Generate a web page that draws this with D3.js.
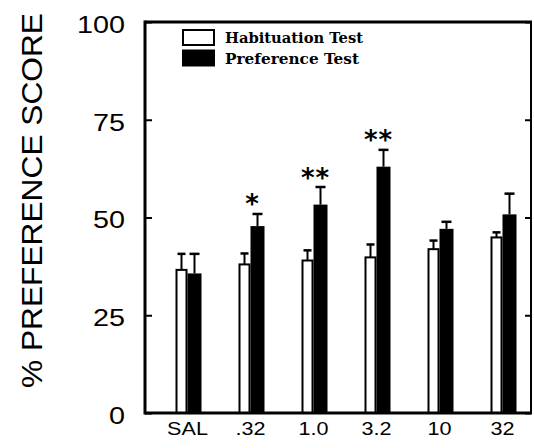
<!DOCTYPE html>
<html>
<head>
<meta charset="utf-8">
<script src="https://cdn.jsdelivr.net/npm/d3@7"></script>
<style>
  body { margin: 0; background: #fff; }
  svg { display: block; }
</style>
</head>
<body>
<svg id="chart" width="534" height="448"></svg>
<script>
// dose groups + values
const doses = ["SAL", ".32", "1.0", "3.2", "10", "32"];
const habituation = [36.6, 38.0, 39.0, 39.8, 41.9, 44.9];
const habituationErr = [4.1, 2.8, 2.6, 3.3, 2.2, 1.3];
const preference = [35.7, 47.8, 53.3, 63.0, 47.1, 50.8];
const preferenceErr = [5.0, 3.1, 4.5, 4.3, 1.8, 5.3];
const significance = ["", "*", "**", "**", "", ""];
const yTicks = [0, 25, 50, 75, 100];
const legendLabels = ["Habituation Test", "Preference Test"];

const svg = d3.select("#chart");

// "top" is a window global, so use plot* names
const plotL = 145, plotR = 531, plotT = 22, plotB = 413;

const y = d3.scaleLinear().domain([0, 100]).range([plotB, plotT]);
const x = d3.scaleBand().domain(doses).range([156, 534]).padding(0);
const cx = d => x(d) + x.bandwidth() / 2;

const rows = doses.map((d, i) => ({
  dose: d,
  hab: habituation[i], habErr: habituationErr[i],
  pref: preference[i], prefErr: preferenceErr[i],
  sig: significance[i]
}));

// bars
const g = svg.append("g");
const habW = 12, prefW = 14;

g.selectAll("rect.hab").data(rows).enter().append("rect")
  .attr("class", "hab")
  .attr("x", d => cx(d.dose) - habW + 1)
  .attr("y", d => y(d.hab))
  .attr("width", habW - 2)
  .attr("height", d => y(0) - y(d.hab))
  .attr("fill", "#fff").attr("stroke", "#000").attr("stroke-width", 2);

g.selectAll("rect.pref").data(rows).enter().append("rect")
  .attr("class", "pref")
  .attr("x", d => cx(d.dose))
  .attr("y", d => y(d.pref))
  .attr("width", prefW)
  .attr("height", d => y(0) - y(d.pref))
  .attr("fill", "#000");

// error bars (upper half only, T shape)
const errs = [];
rows.forEach(r => {
  errs.push({x: cx(r.dose) - habW / 2, v: r.hab, e: r.habErr, cap: 8});
  errs.push({x: cx(r.dose) + prefW / 2, v: r.pref, e: r.prefErr, cap: 10});
});
const eg = g.selectAll("g.err").data(errs).enter().append("g").attr("class", "err");
eg.append("line")
  .attr("x1", d => d.x).attr("x2", d => d.x)
  .attr("y1", d => y(d.v)).attr("y2", d => y(d.v + d.e))
  .attr("stroke", "#000").attr("stroke-width", 2);
eg.append("line")
  .attr("x1", d => d.x - d.cap / 2).attr("x2", d => d.x + d.cap / 2)
  .attr("y1", d => y(d.v + d.e)).attr("y2", d => y(d.v + d.e))
  .attr("stroke", "#000").attr("stroke-width", 2.5);

// significance stars
g.selectAll("text.sig").data(rows.filter(r => r.sig)).enter().append("text")
  .attr("class", "sig")
  .attr("x", d => cx(d.dose) + 2)
  .attr("y", d => y(d.pref + d.prefErr) - 20)
  .attr("dy", "0.75em")
  .attr("text-anchor", "middle")
  .style("font-family", "'DejaVu Sans', sans-serif")
  .style("font-weight", "bold")
  .style("font-size", "26px")
  .style("letter-spacing", "1px")
  .text(d => d.sig);

// axes
const yAxisL = d3.axisLeft(y).tickValues(yTicks).tickSizeInner(-7).tickSizeOuter(0).tickPadding(20);
const ax = svg.append("g").attr("transform", `translate(${plotL},0)`).call(yAxisL);
ax.select(".domain").remove();
ax.selectAll("line").attr("stroke-width", 2);
ax.selectAll("text")
  .attr("x", null).attr("dy", "0.45em")
  .attr("transform", "translate(-20,0) scale(1.25,1)")
  .style("font-family", "'Liberation Sans', Arial, sans-serif")
  .style("font-size", "23px")
  .attr("fill", "#000");

const yAxisR = d3.axisRight(y).tickValues(yTicks).tickSizeInner(-6).tickSizeOuter(0).tickFormat("");
const axr = svg.append("g").attr("transform", `translate(${plotR},0)`).call(yAxisR);
axr.select(".domain").remove();
axr.selectAll("line").attr("stroke-width", 2);

const xAxis = d3.axisBottom(x).tickSize(0).tickPadding(9);
const axb = svg.append("g").attr("transform", `translate(0,${plotB})`).call(xAxis);
axb.select(".domain").remove();
axb.selectAll("text")
  .attr("y", null)
  .attr("transform", "translate(0,9) scale(1.2,1)")
  .style("font-family", "'Liberation Sans', Arial, sans-serif")
  .style("font-size", "18px")
  .attr("fill", "#000");
axb.selectAll(".tick").attr("transform", d => `translate(${cx(d)},0)`);

// frame
const frame = svg.append("g").attr("fill", "none").attr("stroke", "#000");
frame.append("line").attr("x1", plotL).attr("x2", plotL).attr("y1", plotT - 1.5).attr("y2", plotB + 1.5).attr("stroke-width", 3);
frame.append("line").attr("x1", plotL).attr("x2", plotR + 1).attr("y1", plotT).attr("y2", plotT).attr("stroke-width", 3);
frame.append("line").attr("x1", plotL).attr("x2", plotR + 1).attr("y1", plotB).attr("y2", plotB).attr("stroke-width", 3);
frame.append("line").attr("x1", plotR).attr("x2", plotR).attr("y1", plotT).attr("y2", plotB).attr("stroke-width", 2);

// y title
svg.append("text")
  .attr("transform", `translate(42,${(13 + 388) / 2}) rotate(-90)`)
  .attr("text-anchor", "middle")
  .attr("textLength", 375)
  .attr("lengthAdjust", "spacingAndGlyphs")
  .style("font-family", "'Liberation Sans', Arial, sans-serif")
  .style("font-size", "30px")
  .text("% PREFERENCE SCORE");

// legend
const lg = svg.append("g").attr("transform", "translate(182,29)");
const li = lg.selectAll("g").data(legendLabels).enter().append("g")
  .attr("transform", (d, i) => `translate(0,${i * 20.5})`);
li.append("rect")
  .attr("x", (d, i) => i ? 0 : 1).attr("y", (d, i) => i ? 0 : 1)
  .attr("width", (d, i) => i ? 33 : 31).attr("height", (d, i) => i ? 17 : 15)
  .attr("fill", (d, i) => i ? "#000" : "#fff")
  .attr("stroke", "#000").attr("stroke-width", (d, i) => i ? 0 : 2);
li.append("text")
  .attr("x", 43).attr("y", 14)
  .attr("textLength", (d, i) => i ? 134 : 138)
  .attr("lengthAdjust", "spacingAndGlyphs")
  .style("font-family", "'DejaVu Serif', serif")
  .style("font-weight", "bold")
  .style("font-size", "14px")
  .text(d => d);
</script>
</body>
</html>
